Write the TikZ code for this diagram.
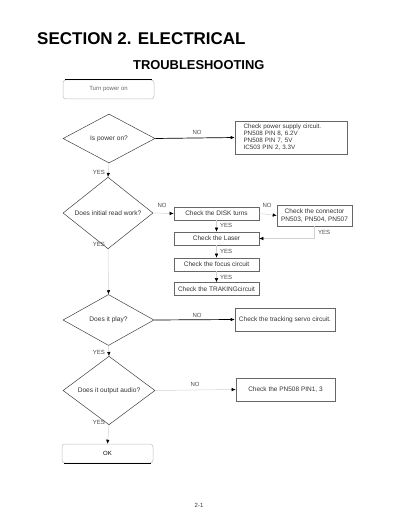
\documentclass[tikz,border=0pt]{standalone}
\usepackage{fontspec}
\setmainfont{Liberation Sans}
\usetikzlibrary{shapes.geometric,arrows.meta}
\tikzset{
  dec/.style={diamond, draw=black!75, line width=0.5pt, inner sep=0pt, font=\fontsize{6.6}{7}\selectfont, text=black!80},
  procbox/.style={rectangle, draw=black!60, line width=0.6pt, inner sep=0pt, font=\fontsize{6.5}{7.5}\selectfont, text=black!80, align=center},
  term/.style={rectangle, rounded corners=3pt, draw=black!25, line width=0.5pt, minimum width=91pt, minimum height=19pt, inner sep=0pt, font=\fontsize{6}{7}\selectfont, text=black!60},
  flow/.style={line width=0.7pt, draw=black, -{Latex[length=4pt,width=3.5pt]}},
  fadedl/.style={line width=0.5pt, draw=black!18, -{Latex[length=4pt,width=3.5pt,black]}},
  lbl/.style={font=\fontsize{6}{7}\selectfont, text=black!70, inner sep=0pt},
}
\begin{document}
\begin{tikzpicture}[x=1pt,y=-1pt]
\path[use as bounding box] (0,0) rectangle (400,518);
% titles
\node[anchor=base west, inner sep=0pt, font=\fontsize{17}{20}\selectfont\bfseries] (title) at (37,45) {SECTION 2. ELECTRICAL};
\node[anchor=base west, inner sep=0pt, font=\fontsize{12.9}{15}\selectfont\bfseries] (sub) at (133,69.5) {TROUBLESHOOTING};
% start terminator
\node[term] (start) at (108.5,89.5) {Turn power on};
\draw[line width=0.7pt] ([xshift=2pt]start.north west) -- ([xshift=-2pt]start.north east);
% decision 1
\node[dec, minimum width=92pt, minimum height=49pt] (d1) at (109,138.5) {Is power on?};
\node[procbox, minimum width=112pt, minimum height=33pt, text width=95pt, align=left, font=\fontsize{6.3}{7}\selectfont] (b1) at (291,137.5) {Check power supply circuit.\\PN508 PIN 8, 6.2V\\PN508 PIN 7, 5V\\IC503 PIN 2, 3.3V};
\draw[flow] (d1.east) -- (b1.west);
\node[lbl] (no1) at (197,132) {NO};
\node[lbl, anchor=east] (yes1) at (105,172) {YES};
% decision 2
\node[dec, minimum width=90pt, minimum height=50pt] (d2) at (108,213) {Does initial read work?};
\draw[fadedl] (d1.south) -- (d2.north);
\node[procbox, minimum width=85pt, minimum height=13pt] (disk) at (216.5,213.5) {Check the DISK turns};
\node[procbox, minimum width=75pt, minimum height=21pt] (conn) at (314.5,215.5) {Check the connector\\PN503, PN504, PN507};
\node[procbox, minimum width=85pt, minimum height=13pt] (laser) at (216.5,238.5) {Check the Laser};
\node[procbox, minimum width=85pt, minimum height=13pt] (focus) at (216.5,264.5) {Check the focus circuit};
\node[procbox, minimum width=85pt, minimum height=13pt] (trak) at (216.5,289) {Check the TRAKINGcircuit};
\draw[fadedl] (d2.east) -- (disk.west);
\draw[fadedl] (disk.east) -- (conn.west);
\draw[fadedl] (conn.south) |- (laser.east);
\draw[fadedl] (disk.south) -- (laser.north);
\draw[fadedl] (laser.south) -- (focus.north);
\draw[fadedl] (focus.south) -- (trak.north);
\node[lbl] (no2) at (162,205.5) {NO};
\node[lbl] (no3) at (267,205.5) {NO};
\node[lbl, anchor=west] (yes3) at (318,232.5) {YES};
\node[lbl, anchor=west] (yes4) at (220,225.5) {YES};
\node[lbl, anchor=west] (yes5) at (220,251.5) {YES};
\node[lbl, anchor=west] (yes6) at (220,277) {YES};
\node[lbl, anchor=east] (yes2) at (105,244) {YES};
% decision 3
\node[dec, minimum width=91pt, minimum height=51pt] (d3) at (108.5,320) {Does it play?};
\draw[fadedl] (d2.south) -- (d3.north);
\node[procbox, minimum width=100pt, minimum height=23pt] (b3) at (285,319.5) {Check the tracking servo circuit.};
\draw[flow] (d3.east) -- (b3.west);
\node[lbl] (no4) at (197,315) {NO};
\node[lbl, anchor=east] (yes7) at (105,352) {YES};
% decision 4
\node[dec, minimum width=92pt, minimum height=51pt] (d4) at (109,390.5) {Does it output audio?};
\draw[fadedl] (d3.south) -- (d4.north);
\node[procbox, minimum width=99pt, minimum height=23pt] (b4) at (285.5,389.5) {Check the PN508 PIN1, 3};
\draw[fadedl] (d4.east) -- (b4.west);
\node[lbl] (no5) at (195,384) {NO};
\node[lbl, anchor=east] (yes8) at (105,422) {YES};
% end terminator
\node[term, text=black] (end) at (107.5,453.5) {OK};
\draw[line width=0.7pt] ([xshift=2pt]end.south west) -- ([xshift=-2pt]end.south east);
\draw[fadedl] (d4.south) -- (end.north);
% page number
\node[lbl, text=black!80] (page) at (199,505) {2-1};
\end{tikzpicture}
\end{document}
